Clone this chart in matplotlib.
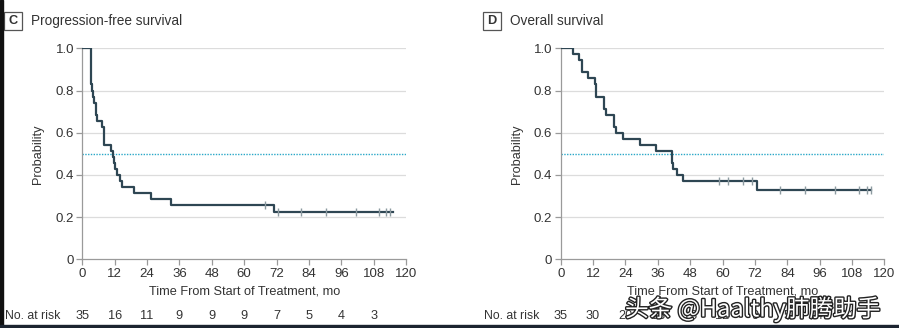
import numpy as np
import matplotlib.pyplot as plt
import matplotlib.patheffects as pe
from matplotlib.patches import Rectangle
from matplotlib.transforms import blended_transform_factory

plt.rcParams['font.family'] = ['Liberation Sans', 'DejaVu Sans']

# Progression-free survival (step curve)
pfs_t = [0, 3.1, 3.4, 3.7, 4.0, 4.5, 4.9, 5.2, 5.6, 7.2, 8.0, 10.6, 11.3, 11.7,
         12.3, 13.0, 13.8, 14.7, 19.3, 25.5, 32.9, 71.2, 115.0]
pfs_s = [1.0, 0.857, 0.829, 0.800, 0.771, 0.743, 0.714, 0.686, 0.657, 0.629,
         0.543, 0.514, 0.486, 0.457, 0.429, 0.400, 0.371, 0.343, 0.314, 0.286,
         0.257, 0.225, 0.225]
pfs_cens = [67.7, 72.6, 81.1, 90.3, 101.4, 109.9, 112.7, 114.2]
pfs_risk = [35, 16, 11, 9, 9, 9, 7, 5, 4, 3]

# Overall survival
os_t = [0, 4.7, 6.8, 7.8, 10.0, 12.7, 13.1, 16.2, 16.7, 19.8, 20.4, 23.0, 29.4,
        35.4, 41.2, 41.8, 43.0, 45.5, 72.7, 115.1]
os_s = [1.0, 0.971, 0.943, 0.886, 0.857, 0.829, 0.771, 0.714, 0.686, 0.629,
        0.600, 0.571, 0.543, 0.514, 0.457, 0.429, 0.400, 0.371, 0.330, 0.330]
os_cens = [58.5, 62.0, 67.4, 71.1, 81.4, 90.7, 101.6, 110.5, 113.6, 115.1]
os_risk = [35, 30, 20, 18, 13, 12, 9, 5, 4, 3]

xticks = list(range(0, 121, 12))
yticks = [0, 0.2, 0.4, 0.6, 0.8, 1.0]
ylabels = ['0', '0.2', '0.4', '0.6', '0.8', '1.0']

TXT = '#333333'
LINE = '#2e4653'
GRID = '#dcdcdc'
SPINE = '#9a9a9a'
MED = '#2aa8c8'
CENS = '#8c9aa0'
SZ = 9.2

W, H = 899, 328
fig = plt.figure(figsize=(W / 100, H / 100), dpi=100)


def panel(left_px, letter, title, t, s, cens, risk, box_px):
    ax = fig.add_axes([left_px / W, (H - 259.3) / H, 323.7 / W, 211 / H])
    ax.set_xlim(0, 120)
    ax.set_ylim(0, 1.0)
    for y in yticks[1:]:
        ax.axhline(y, color=GRID, lw=0.9, zorder=0)
    ax.axhline(0.5, color=MED, lw=1.0, ls=(0, (1, 1)), zorder=1)
    ax.step(t, s, where='post', color=LINE, lw=1.6, zorder=3)
    idx = np.searchsorted(t, cens, side='right') - 1
    cy = np.array(s)[idx]
    ax.plot(cens, cy, ls='', marker='|', ms=6, mew=1.0, color=CENS, zorder=4)

    for k in ['top', 'right']:
        ax.spines[k].set_visible(False)
    for k in ['left', 'bottom']:
        ax.spines[k].set_color(SPINE)
        ax.spines[k].set_linewidth(0.9)
    ax.set_xticks(xticks)
    ax.set_yticks(yticks)
    ax.set_yticklabels(ylabels)
    ax.tick_params(colors=SPINE, labelcolor=TXT, labelsize=SZ + 0.3, length=4,
                   width=0.9, pad=2)
    ax.set_ylabel('Probability', color=TXT, fontsize=SZ, labelpad=8)
    ax.set_xlabel('Time From Start of Treatment, mo', color=TXT,
                  fontsize=SZ, labelpad=4)

    # number at risk row
    tr = blended_transform_factory(ax.transData, fig.transFigure)
    for x, n in zip(xticks, risk):
        ax.text(x, (H - 316) / H, str(n), transform=tr, ha='center',
                va='center', fontsize=SZ, color=TXT)
    fig.text((box_px[0] + 1) / W, (H - 316) / H, 'No. at risk',
             ha='left', va='center', fontsize=SZ - 0.4, color=TXT)

    # panel letter box and title
    bx, by = box_px[0], box_px[1]
    fig.patches.append(Rectangle((bx / W, (H - by - 18) / H), 18 / W, 18 / H,
                                 transform=fig.transFigure, fill=False,
                                 ec='#555555', lw=0.9))
    fig.text((bx + 9) / W, (H - by - 9) / H, letter, ha='center', va='center',
             fontsize=SZ, color=TXT, fontweight='bold')
    fig.text((bx + 27) / W, (H - by - 9) / H, title, ha='left', va='center',
             fontsize=SZ + 0.6, color=TXT)
    return ax


panel(82.3, 'C', 'Progression-free survival', pfs_t, pfs_s, pfs_cens, pfs_risk,
      (4, 12))
panel(560.7, 'D', 'Overall survival', os_t, os_s, os_cens, os_risk,
      (483, 12))

# dark frame strips
fig.patches.append(Rectangle((0, 0), 3 / W, 1, transform=fig.transFigure,
                             color='#111111', zorder=10))
fig.patches.append(Rectangle((0, 0), 1, 3 / H, transform=fig.transFigure,
                             color='#1c2430', zorder=10))

# site watermark
fig.text(625 / W, (H - 309) / H, '头条 @Haalthy肺腾助手', ha='left',
         va='center', fontsize=17, color='white',
         family=['Noto Sans CJK SC', 'DejaVu Sans'],
         path_effects=[pe.withStroke(linewidth=2, foreground='#222222')])

fig.savefig('out.png', dpi=100)
